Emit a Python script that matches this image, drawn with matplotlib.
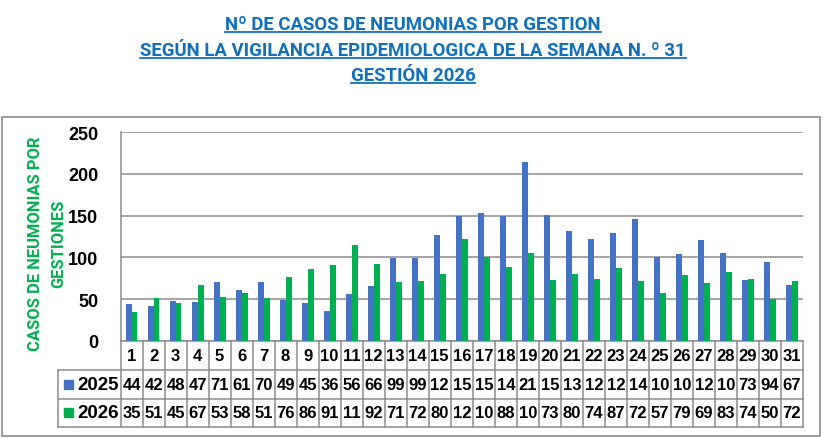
import matplotlib
matplotlib.use("Agg")
import matplotlib.pyplot as plt
from matplotlib.transforms import blended_transform_factory
from matplotlib.lines import Line2D
from matplotlib.patches import Rectangle

weeks = list(range(1, 32))
cases_2025 = [44, 42, 48, 47, 71, 61, 70, 49, 45, 36, 56, 66, 99, 99, 127, 150,
              153, 149, 214, 151, 131, 122, 129, 146, 100, 104, 121, 105, 73, 94, 67]
cases_2026 = [35, 51, 45, 67, 53, 58, 51, 76, 86, 91, 115, 92, 71, 72, 80, 122,
              100, 88, 105, 73, 80, 74, 87, 72, 57, 79, 69, 83, 74, 50, 72]
series_names = ["2025", "2026"]
title_lines = ["Nº DE CASOS DE NEUMONIAS POR GESTION",
               "SEGÚN LA VIGILANCIA EPIDEMIOLOGICA DE LA SEMANA N. º 31",
               "GESTIÓN 2026"]
y_label_lines = ["CASOS DE NEUMONIAS POR", "GESTIONES"]
y_ticks = [0, 50, 100, 150, 200, 250]

BLUE = "#4472C4"
GREEN = "#00B050"
GRID = "#8C8C8C"
TITLE_C = "#1070BE"
NARROW = ["Roboto", "Liberation Sans", "DejaVu Sans"]
SANS = ["Liberation Sans", "DejaVu Sans"]

W, H = 826, 439
fig = plt.figure(figsize=(W / 100, H / 100), dpi=100)
fig.patch.set_facecolor("white")

def fx(px):
    return px / W

def fy(py):
    return 1 - py / H

# outer chart frame
fig.add_artist(Rectangle((fx(2), fy(437)), fx(820) - fx(2), fy(118) - fy(437),
                         transform=fig.transFigure, fill=False, edgecolor="#8C8C8C", lw=1.2))

# main axes
left, right, top, bottom = 120.5, 803, 133, 342
ax = fig.add_axes([fx(left), fy(bottom), fx(right) - fx(left), fy(top) - fy(bottom)])
x = list(range(len(weeks)))
bw = 0.27
ax.bar([i - bw / 2 for i in x], cases_2025, width=bw, color=BLUE, zorder=3)
ax.bar([i + bw / 2 for i in x], cases_2026, width=bw, color=GREEN, zorder=3)
ax.set_xlim(-0.5, len(weeks) - 0.5)
ax.set_ylim(0, 250)
ax.set_yticks(y_ticks)
ax.set_yticklabels([str(t) for t in y_ticks], fontfamily=SANS, fontweight="bold", fontsize=13)
ax.tick_params(axis="y", length=0, pad=16)
ax.set_xticks([])
ax.yaxis.grid(True, color=GRID, lw=1.1)
ax.set_axisbelow(True)
for s in ["top", "right"]:
    ax.spines[s].set_visible(False)
ax.spines["left"].set_color(GRID)
ax.spines["bottom"].set_color(GRID)
ax.spines["left"].set_linewidth(1.1)
ax.spines["bottom"].set_linewidth(1.1)
ax.set_facecolor("none")

# data table
tr = blended_transform_factory(ax.transData, fig.transFigure)
row_y = [342, 371, 399.5, 428]
lc = dict(color=GRID, lw=1.1)
for ry in row_y[1:]:
    fig.add_artist(Line2D([-0.5, len(weeks) - 0.5], [fy(ry), fy(ry)], transform=tr, **lc))
for i in range(len(weeks) + 1):
    fig.add_artist(Line2D([i - 0.5, i - 0.5], [fy(row_y[0]), fy(row_y[3])], transform=tr, **lc))
lx0 = 57.5
for ry in row_y[1:]:
    fig.add_artist(Line2D([fx(lx0), fx(left)], [fy(ry), fy(ry)], transform=fig.transFigure, **lc))
fig.add_artist(Line2D([fx(lx0), fx(lx0)], [fy(row_y[1]), fy(row_y[3])], transform=fig.transFigure, **lc))

num_kw = dict(fontfamily=SANS, fontweight="bold", fontsize=12, ha="center", va="center")
for i, w in enumerate(weeks):
    fig.text(i, fy((row_y[0] + row_y[1]) / 2), str(w), transform=tr, **num_kw)
    fig.text(i, fy((row_y[1] + row_y[2]) / 2), str(cases_2025[i])[:2], transform=tr, **num_kw)
    fig.text(i, fy((row_y[2] + row_y[3]) / 2), str(cases_2026[i])[:2], transform=tr, **num_kw)

for k, (name, col) in enumerate(zip(series_names, [BLUE, GREEN])):
    cy = (row_y[k + 1] + row_y[k + 2]) / 2
    fig.add_artist(Rectangle((fx(64), fy(cy + 4.5)), fx(9), fy(cy - 4.5) - fy(cy + 4.5),
                             transform=fig.transFigure, color=col))
    fig.text(fx(77), fy(cy), name, ha="left", va="center", fontfamily=SANS,
             fontweight="bold", fontsize=13.5)

fig.canvas.draw()
r = fig.canvas.get_renderer()

def fit_size(text, target_px, base=12, **kw):
    t = fig.text(0, 0, text, fontsize=base, **kw)
    w = t.get_window_extent(renderer=r).width
    t.remove()
    return base * target_px / w

# y label (two rotated lines)
ysz = fit_size(y_label_lines[0], 214, fontfamily=NARROW, fontweight="bold")
for line, lxp in zip(y_label_lines, [35.5, 59]):
    fig.text(fx(lxp), fy(244), line, rotation=90, ha="center", va="center",
             color=GREEN, fontfamily=NARROW, fontweight="bold", fontsize=ysz)

# titles with underline
tsz = fit_size(title_lines[1], 545, fontfamily=NARROW, fontweight="bold")
title_y = [25, 51, 76]
texts = []
for t, ty in zip(title_lines, title_y):
    texts.append(fig.text(0.5, fy(ty), t, ha="center", va="center", color=TITLE_C,
                          fontfamily=NARROW, fontweight="bold", fontsize=tsz))
fig.canvas.draw()
for t in texts:
    bb = t.get_window_extent(renderer=r)
    yb = (bb.y0 + 1.0) / H
    fig.add_artist(Line2D([bb.x0 / W, bb.x1 / W], [yb, yb], transform=fig.transFigure,
                          color=TITLE_C, lw=1.3))

fig.savefig("out.png", dpi=100, facecolor="white")
